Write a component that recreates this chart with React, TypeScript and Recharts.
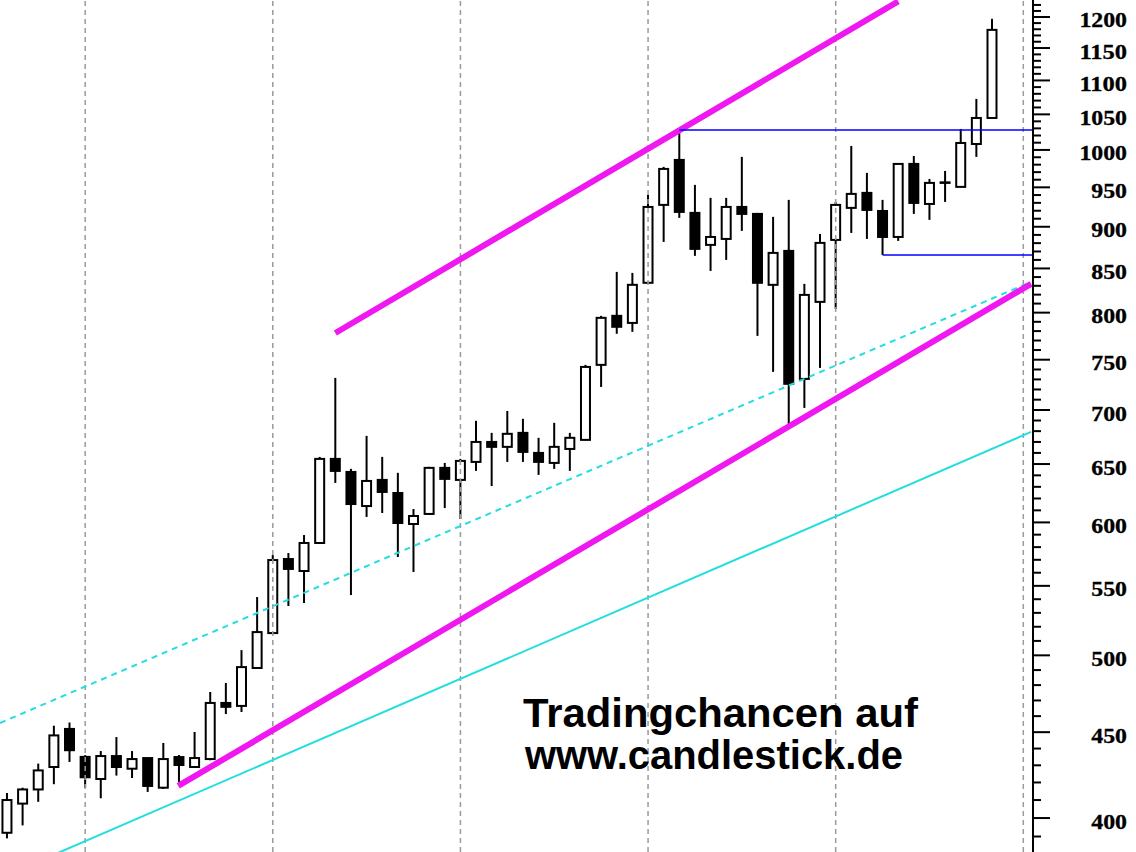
import React from "react";
import { ComposedChart, Bar, Line, XAxis, YAxis, ReferenceLine } from "recharts";

// Weekly candles
const OPEN = [392, 408, 416, 429, 452, 435, 422, 435.5, 428, 434.3, 417, 434.9, 429, 433.7, 468.4, 466.5, 491.4, 515.5, 570.6, 561.3, 583.3, 654.6, 643, 613.6, 636, 624.7, 598.7, 607, 646.6, 636, 651.9, 670, 665.5, 678.4, 660, 651, 663.6, 671.9, 744.7, 796.5, 788.8, 833.4, 927.4, 986.4, 917.3, 877.9, 885.1, 924.8, 916, 831.1, 870.7, 730.5, 811.9, 883.9, 923.6, 942.8, 919.7, 887.5, 981, 928.6, 955.8, 950.6, 1008.2, 1044.8];
const HIGH = [414, 417, 431, 454, 456, 436, 438.5, 447, 438.5, 434.5, 443.4, 436.1, 450.1, 475.5, 481.4, 503.6, 541.6, 573.7, 575.3, 589.7, 656.4, 731.5, 645.7, 675.6, 656.4, 642.2, 611.1, 647.5, 651, 654.6, 689.7, 678.4, 699.1, 691.6, 673.8, 687.8, 678.4, 744.7, 796.5, 846, 844.8, 940.2, 977, 1027.8, 953.2, 936.4, 936.4, 990.5, 917.3, 912.3, 933.8, 832.2, 891.2, 931.2, 1005.5, 969, 933.8, 981, 991.8, 961, 971.6, 1029.2, 1072.5, 1197];
const LOW = [389, 396, 409, 419, 432, 417, 411, 424, 422.6, 414.6, 416.3, 420.2, 428.5, 433, 461.3, 462.6, 491, 515, 535, 537.2, 583, 633.4, 543.1, 604.5, 607.8, 572.2, 560.5, 606.5, 611.9, 602.8, 643.9, 630.7, 651.9, 651.9, 640.4, 645.7, 643.9, 671.5, 722.5, 777.1, 779.2, 833, 881.5, 911, 864.8, 847.1, 860, 894.9, 774.9, 737.6, 686, 702, 741.6, 804.1, 892.4, 885.1, 865.9, 882.7, 916, 908.5, 931.2, 950, 990.5, 1044];
const CLOSE = [410, 416, 427, 448, 439, 423, 435.5, 429, 433.7, 418, 433.7, 430.2, 434.3, 468.4, 465.9, 492, 516.2, 569.8, 562.9, 583.3, 654.6, 643.9, 615.3, 635.1, 625.6, 599.5, 605.3, 646.6, 636.9, 652.8, 670, 665.5, 677.5, 660.9, 651.9, 665.5, 673.8, 742.6, 794.3, 784.6, 831.1, 924.8, 974.3, 918.5, 873.1, 887.5, 924.8, 916, 833.4, 868.3, 725.6, 819.7, 880.3, 927.4, 941.5, 921, 887.5, 981, 929.9, 955.8, 956.5, 1009.6, 1044.8, 1179];

// Trend lines: [index, price]
const UPPER_CHANNEL = [{ i: 21, v: 778 }, { i: 57, v: 1226 }];
const LOWER_CHANNEL = [{ i: 10.95, v: 418 }, { i: 65.5, v: 832.2 }];
const CYAN_DASHED = [{ i: -0.448, v: 455.7 }, { i: 65.5, v: 834.5 }];
const CYAN_SOLID = [{ i: 3, v: 380.4 }, { i: 65.5, v: 679.3 }];
const BLUE_TOP = [{ i: 43, v: 1027.8 }, { i: 65.62, v: 1027.8 }];
const BLUE_BOTTOM = [{ i: 56, v: 865.9 }, { i: 65.62, v: 865.9 }];

const GRID_X = [5, 17, 29, 41, 53, 65];
const MAJOR_TICKS = [400, 450, 500, 550, 600, 650, 700, 750, 800, 850, 900, 950, 1000, 1050, 1100, 1150, 1200];
const Y_DOMAIN = [381.8, 1228.3];
const X_DOMAIN = [-0.4477, 65.62];

const data = OPEN.map((o, i) => ({ i, open: o, high: HIGH[i], low: LOW[i], close: CLOSE[i] }));

const allTicks: number[] = [];
for (let t = 390; t <= 1220; t += 10) allTicks.push(t);

const Candle = (props: any) => {
  const { x, y, width, height, payload } = props;
  if (!payload) return null;
  const cx = x + width / 2;
  const yTop = Math.min(y, y + height);
  const yBot = Math.max(y, y + height);
  const h = yBot - yTop;
  const lh = Math.log(payload.high);
  const ll = Math.log(payload.low);
  const py = (p: number) => yTop + (h * (lh - Math.log(p))) / (lh - ll);
  const yO = py(payload.open);
  const yC = py(payload.close);
  const top = Math.min(yO, yC);
  const bot = Math.max(yO, yC);
  const up = payload.close >= payload.open;
  return (
    <g>
      <line x1={cx} x2={cx} y1={yTop} y2={top} stroke="#000" strokeWidth={2} />
      <line x1={cx} x2={cx} y1={bot} y2={yBot} stroke="#000" strokeWidth={2} />
      <rect x={cx - 4.5} y={top} width={9} height={Math.max(bot - top, 0.5)} fill={up ? "none" : "#000"} stroke="#000" strokeWidth={2} />
    </g>
  );
};

const YTick = (props: any) => {
  const { x, y, payload } = props;
  const v = payload.value;
  const major = MAJOR_TICKS.indexOf(v) >= 0;
  if (!major) {
    return <line x1={x} x2={x + 8} y1={y} y2={y} stroke="#000" strokeWidth={2} />;
  }
  const label = String(v);
  return (
    <g>
      <line x1={x} x2={x + 17} y1={y} y2={y} stroke="#000" strokeWidth={2} />
      <text
        x={x + 94}
        y={y + 10.5}
        textAnchor="end"
        fontFamily="'Liberation Serif', 'Times New Roman', serif"
        fontWeight="bold"
        fontSize={20}
        fill="#000"
        stroke="#000"
        strokeWidth={0.3}
        textLength={label.length * 11.9}
        lengthAdjust="spacingAndGlyphs"
      >
        {label}
      </text>
    </g>
  );
};

export default function App() {
  return (
    <div style={{ position: "absolute", left: 0, top: 0, width: 1136, height: 852, background: "#fff", overflow: "hidden" }}>
      <ComposedChart width={1136} height={852} data={data} margin={{ top: 0, right: 0, bottom: 0, left: 0 }}>
        <XAxis type="number" dataKey="i" domain={X_DOMAIN} allowDataOverflow hide />
        <YAxis
          orientation="right"
          width={103}
          scale="log"
          domain={Y_DOMAIN}
          allowDataOverflow
          ticks={allTicks}
          interval={0}
          tick={<YTick />}
          tickLine={false}
          tickSize={0}
          tickMargin={0}
          axisLine={{ stroke: "#000", strokeWidth: 2 }}
        />
        {GRID_X.map((gx) => (
          <ReferenceLine key={gx} x={gx} stroke="#9a9a9a" strokeWidth={1.5} strokeDasharray="5 4" />
        ))}
        <Bar dataKey={(d: any) => [d.low, d.high]} barSize={10} shape={<Candle />} isAnimationActive={false} />
        <Line data={CYAN_SOLID} dataKey="v" type="linear" dot={false} stroke="#22dede" strokeWidth={2} isAnimationActive={false} />
        <Line data={CYAN_DASHED} dataKey="v" type="linear" dot={false} stroke="#22dede" strokeWidth={2} strokeDasharray="6 5" isAnimationActive={false} />
        <Line data={LOWER_CHANNEL} dataKey="v" type="linear" dot={false} stroke="#f018f0" strokeWidth={6} isAnimationActive={false} />
        <Line data={UPPER_CHANNEL} dataKey="v" type="linear" dot={false} stroke="#f018f0" strokeWidth={6} isAnimationActive={false} />
        <Line data={BLUE_TOP} dataKey="v" type="linear" dot={false} stroke="#0000ff" strokeWidth={1.5} isAnimationActive={false} />
        <Line data={BLUE_BOTTOM} dataKey="v" type="linear" dot={false} stroke="#0000ff" strokeWidth={1.5} isAnimationActive={false} />
      </ComposedChart>
      <svg width={1136} height={852} style={{ position: "absolute", left: 0, top: 0, pointerEvents: "none" }}>
        <text x={523} y={727} fontFamily="'Liberation Sans', Arial, sans-serif" fontWeight="bold" fontSize={41} fill="#000" textLength={395} lengthAdjust="spacingAndGlyphs">
          Tradingchancen auf
        </text>
        <text x={525} y={769} fontFamily="'Liberation Sans', Arial, sans-serif" fontWeight="bold" fontSize={41} fill="#000" textLength={378} lengthAdjust="spacingAndGlyphs">
          www.candlestick.de
        </text>
      </svg>
    </div>
  );
}
